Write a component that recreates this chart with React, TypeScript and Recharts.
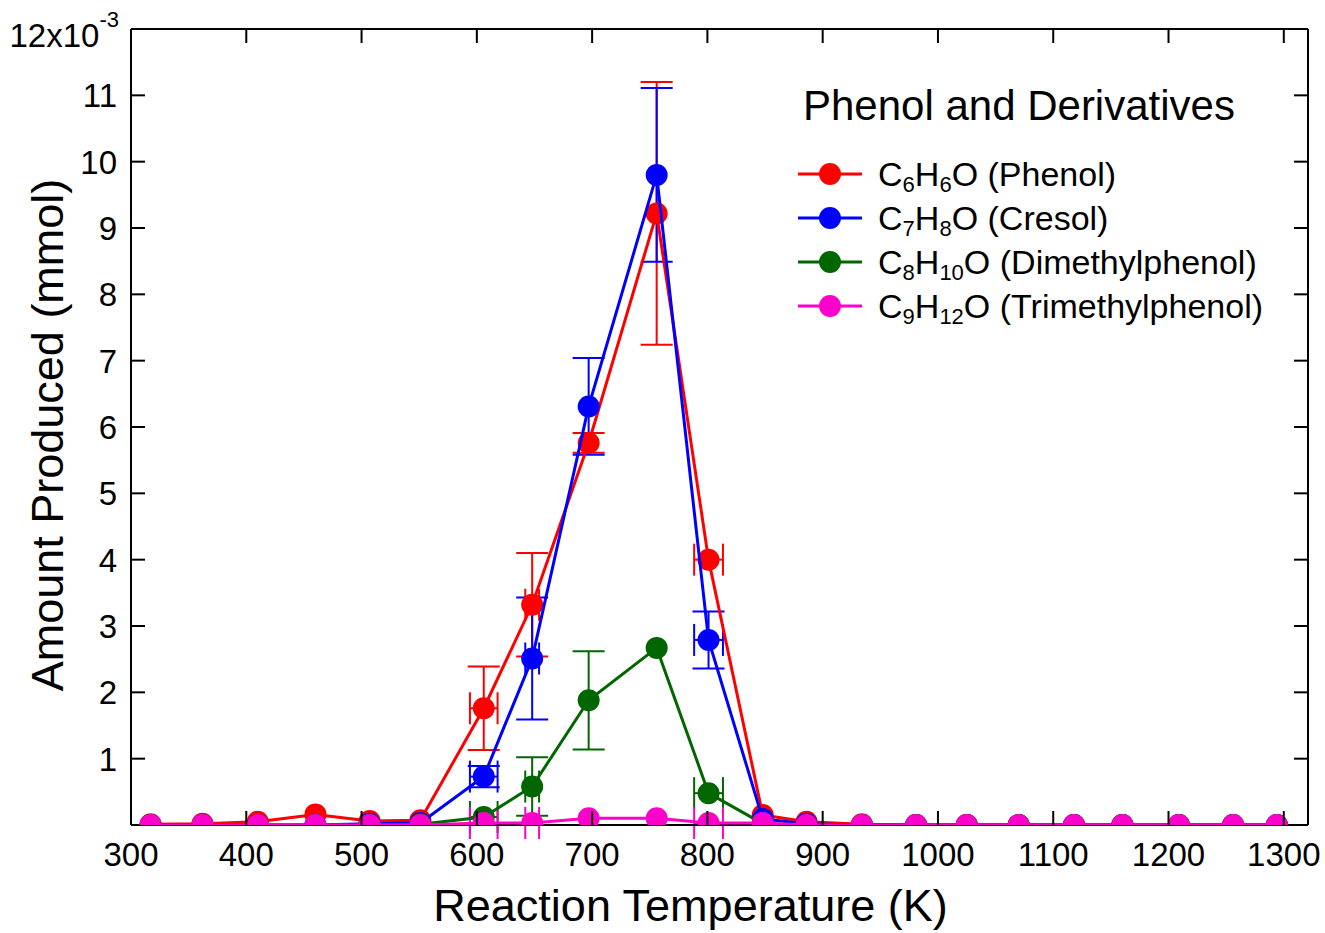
import { ScatterChart, Scatter, XAxis, YAxis, ErrorBar, Legend, Label } from 'recharts'

const temps = [317, 362, 410, 460, 507, 551, 606, 648, 697, 756, 801, 848, 886, 934, 981, 1025, 1070, 1118, 1160, 1209, 1256, 1294]
const tempErr = [0, 0, 0, 0, 0, 0, 12, 6, 0, 0, 12.5, 0, 0, 0, 0, 0, 0, 0, 0, 0, 0, 0]

const phenol = [0.01, 0.02, 0.05, 0.16, 0.06, 0.07, 1.76, 3.32, 5.76, 9.22, 4.0, 0.15, 0.05, 0.01, 0, 0, 0, 0, 0, 0, 0, 0]
const phenolErr = [0, 0, 0, 0, 0, 0, 0.63, 0.78, 0.15, 1.98, 0, 0, 0, 0, 0, 0, 0, 0, 0, 0, 0, 0]
const cresol = [0, 0, 0, 0, 0.02, 0.03, 0.73, 2.51, 6.31, 9.8, 2.79, 0.09, 0.02, 0, 0, 0, 0, 0, 0, 0, 0, 0]
const cresolErr = [0, 0, 0, 0, 0, 0, 0.16, 0.92, 0.73, 1.31, 0.43, 0, 0, 0, 0, 0, 0, 0, 0, 0, 0, 0]
const dimethyl = [0, 0, 0, 0, 0, 0.01, 0.12, 0.58, 1.88, 2.67, 0.48, 0.02, 0, 0, 0, 0, 0, 0, 0, 0, 0, 0]
const dimethylErr = [0, 0, 0, 0, 0, 0, 0, 0.44, 0.74, 0, 0, 0, 0, 0, 0, 0, 0, 0, 0, 0, 0, 0]
const trimethyl = [0, 0, 0, 0, 0, 0, 0.03, 0.03, 0.1, 0.1, 0.03, 0.03, 0, 0, 0, 0, 0, 0, 0, 0, 0, 0]
const trimethylErr = [0, 0, 0, 0, 0, 0, 0, 0, 0, 0, 0, 0, 0, 0, 0, 0, 0, 0, 0, 0, 0, 0]

const xTicks = [300, 400, 500, 600, 700, 800, 900, 1000, 1100, 1200, 1300]
const yTicks = [1, 2, 3, 4, 5, 6, 7, 8, 9, 10, 11, 12]
const xDomain = [300, 1321]
const yDomain = [0, 12]

const legendTitle = 'Phenol and Derivatives'
const series = [
  { key: 'phenol', c: '6', h: '6', tail: 'O (Phenol)', color: '#ff0000', values: phenol, err: phenolErr },
  { key: 'cresol', c: '7', h: '8', tail: 'O (Cresol)', color: '#0000ff', values: cresol, err: cresolErr },
  { key: 'dimethyl', c: '8', h: '10', tail: 'O (Dimethylphenol)', color: '#006600', values: dimethyl, err: dimethylErr },
  { key: 'trimethyl', c: '9', h: '12', tail: 'O (Trimethylphenol)', color: '#ff00cc', values: trimethyl, err: trimethylErr },
]

const FONT = '"Liberation Sans", Arial, sans-serif'
const TICK = 14

function BottomTick({ x, y, payload }: any) {
  return (
    <g>
      <line x1={x} y1={y} x2={x} y2={y - TICK} stroke="#000" strokeWidth={2} />
      <text x={x} y={y + 41} textAnchor="middle" fontSize={33} fill="#000">{payload.value}</text>
    </g>
  )
}

function TopTick({ x, y }: any) {
  return <line x1={x} y1={y} x2={x} y2={y + TICK} stroke="#000" strokeWidth={2} />
}

function LeftTick({ x, y, payload }: any) {
  const mark = <line x1={x} y1={y} x2={x + TICK} y2={y} stroke="#000" strokeWidth={2} />
  if (payload.value === 12) {
    return (
      <g>
        {mark}
        <text x={x - 12} y={y + 18} textAnchor="end" fontSize={33} fill="#000">
          <tspan>12x10</tspan>
          <tspan dy={-20} fontSize={22}>-3</tspan>
        </text>
      </g>
    )
  }
  return (
    <g>
      {mark}
      <text x={x - 14} y={y + 12} textAnchor="end" fontSize={33} fill="#000">{payload.value}</text>
    </g>
  )
}

function RightTick({ x, y }: any) {
  return <line x1={x} y1={y} x2={x - TICK} y2={y} stroke="#000" strokeWidth={2} />
}

function renderLegend() {
  return (
    <svg width={530} height={260} style={{ fontFamily: FONT, overflow: 'visible' }}>
      <text x={13} y={50} fontSize={42} fill="#000">{legendTitle}</text>
      {series.map((s, i) => {
        const cy = 104 + i * 44
        return (
          <g key={s.key}>
            <line x1={8} y1={cy} x2={72} y2={cy} stroke={s.color} strokeWidth={3} />
            <circle cx={40} cy={cy} r={11} fill={s.color} />
            <text x={88} y={cy + 12} fontSize={34} fill="#000">
              <tspan>C</tspan>
              <tspan fontSize={22} dy={6}>{s.c}</tspan>
              <tspan dy={-6}>H</tspan>
              <tspan fontSize={22} dy={6}>{s.h}</tspan>
              <tspan dy={-6}>{s.tail}</tspan>
            </text>
          </g>
        )
      })}
    </svg>
  )
}

export default function App() {
  return (
    <div style={{ fontFamily: FONT }}>
      <style>{'body{margin:0}'}</style>
      <ScatterChart width={1325} height={933} margin={{ top: 28, right: 16, bottom: 0, left: 0 }}>
        <XAxis
          xAxisId={0}
          type="number"
          dataKey="x"
          domain={xDomain}
          allowDataOverflow
          ticks={xTicks}
          height={108}
          tickSize={0}
          tickMargin={0}
          tickLine={false}
          axisLine={{ stroke: '#000', strokeWidth: 2 }}
          tick={(p: any) => <BottomTick {...p} />}
        >
          <Label
            content={({ viewBox }: any) => (
              <text x={viewBox.x + viewBox.width / 2 - 29} y={viewBox.y + 96} textAnchor="middle" fontSize={45} fill="#000">
                Reaction Temperature (K)
              </text>
            )}
          />
        </XAxis>
        <XAxis
          xAxisId="top"
          orientation="top"
          type="number"
          dataKey="x"
          domain={xDomain}
          allowDataOverflow
          ticks={xTicks}
          height={1}
          tickSize={0}
          tickMargin={0}
          tickLine={false}
          axisLine={{ stroke: '#000', strokeWidth: 2 }}
          tick={(p: any) => <TopTick {...p} />}
        />
        <YAxis
          yAxisId={0}
          type="number"
          dataKey="y"
          domain={yDomain}
          allowDataOverflow
          ticks={yTicks}
          width={131}
          tickSize={0}
          tickMargin={0}
          tickLine={false}
          axisLine={{ stroke: '#000', strokeWidth: 2 }}
          tick={(p: any) => <LeftTick {...p} />}
        >
          <Label
            content={({ viewBox }: any) => {
              const cx = 63
              const cy = viewBox.y + viewBox.height / 2 + 8
              return (
                <text x={cx} y={cy} transform={`rotate(-90, ${cx}, ${cy})`} textAnchor="middle" fontSize={45} fill="#000">
                  Amount Produced (mmol)
                </text>
              )
            }}
          />
        </YAxis>
        <YAxis
          yAxisId="right"
          orientation="right"
          type="number"
          dataKey="y"
          domain={yDomain}
          allowDataOverflow
          ticks={yTicks}
          width={1}
          tickSize={0}
          tickMargin={0}
          tickLine={false}
          axisLine={{ stroke: '#000', strokeWidth: 2 }}
          tick={(p: any) => <RightTick {...p} />}
        />
        {/* invisible copy so the mirrored frame axes have a series bound to them */}
        <Scatter
          xAxisId="top"
          yAxisId="right"
          data={temps.map((t, i) => ({ x: t, y: trimethyl[i] }))}
          shape={() => <g />}
          legendType="none"
          isAnimationActive={false}
        />
        {series.map(s => (
          <Scatter
            key={s.key}
            name={s.key}
            data={temps.map((t, i) => ({ x: t, y: s.values[i], ex: tempErr[i], ey: s.err[i] }))}
            fill={s.color}
            line={{ stroke: s.color, strokeWidth: 3 }}
            shape={(p: any) => <circle cx={p.cx} cy={p.cy} r={11} fill={s.color} />}
            isAnimationActive={false}
          >
            <ErrorBar dataKey="ey" direction="y" width={16} stroke={s.color} strokeWidth={2} />
            <ErrorBar dataKey="ex" direction="x" width={16} stroke={s.color} strokeWidth={2} />
          </Scatter>
        ))}
        <Legend
          layout="horizontal"
          verticalAlign="middle"
          align="center"
          content={renderLegend}
          wrapperStyle={{ position: 'absolute', left: 790, top: 70, width: 530, height: 260 }}
        />
      </ScatterChart>
    </div>
  )
}
